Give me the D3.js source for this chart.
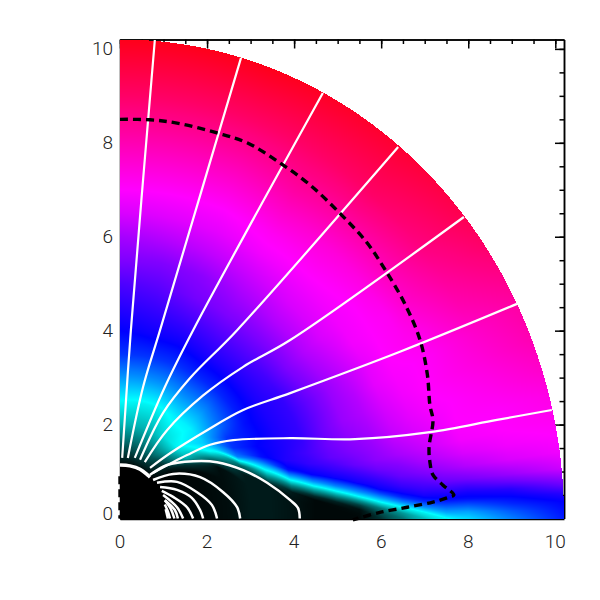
<!DOCTYPE html>
<html>
<head>
<meta charset="utf-8">
<script src="https://cdn.jsdelivr.net/npm/d3@7"></script>
<style>
  html, body { margin: 0; padding: 0; background: #fff; }
  svg { display: block; }
  .labels text { font-family: Roboto, sans-serif; font-weight: 300; font-size: 19px; fill: #222; }
</style>
</head>
<body>
<div id="chart"></div>
<script>
// colour level of the field: 0 black, 1 cyan, 2 blue, 3 magenta, 4 red
const levelStops = [0, 1, 2, 3, 4];
const levelColors = ["#000000", "#00ffff", "#0000ff", "#ff00ff", "#ff0000"];

const angles = [0, 1, 2, 3, 4, 5, 6, 8, 10, 12, 15, 18, 22, 26, 30, 35, 40, 50, 60, 70, 80, 90];
const radii = [1.1, 1.5, 2, 2.5, 3, 3.5, 4, 4.5, 5, 5.5, 6, 6.5, 7, 7.5, 8, 9, 10.2];

// angle of the cyan streamer band at each radius
const edgeAngles = [55, 55, 47, 36, 23.5, 17.4, 11.8, 8.8, 6.7, 4.9, 3.3, 2.1, 1.15, .4, 0, 0, 0];

// one row per radius, one value per angle
const levels = [
  [0, 0, 0, 0, 0, 0, 0, 0, 0, 0, 0, 0, 0, 0, 0, 0, 0, 0, 0, 0, 0, 0],
  [.02, .02, .02, .02, .02, .02, .02, .02, .02, .02, .02, .02, .02, .02, .02, .02, .02, .2, .35, .35, .3, .3],
  [.03, .03, .03, .03, .03, .03, .03, .03, .03, .03, .03, .03, .03, .03, .03, .2, .7, .95, .85, .7, .7, .7],
  [.05, .05, .05, .05, .05, .05, .05, .05, .05, .05, .05, .05, .05, .05, .4, 1, 1.2, 1.05, 1.05, .95, .95, 1],
  [.1, .1, .1, .1, .1, .1, .1, .1, .1, .1, .1, .1, .4, 1.5, 1.8, 1.8, 1.6, 1.45, 1.45, 1.4, 1.4, 1.4],
  [.1, .1, .1, .1, .1, .1, .1, .1, .1, .1, .6, 1.15, 1.95, 2, 1.95, 1.95, 1.9, 1.85, 1.85, 1.8, 1.8, 1.8],
  [.07, .07, .07, .07, .07, .07, .07, .1, .5, 1.05, 1.95, 2.12, 2.1, 2.1, 2.1, 2.1, 2.1, 2.1, 2.1, 2.05, 2.05, 2],
  [.03, .03, .03, .03, .03, .03, .15, .7, 1.4, 2, 2.2, 2.25, 2.2, 2.2, 2.2, 2.2, 2.25, 2.3, 2.3, 2.25, 2.2, 2.15],
  [.03, .03, .03, .04, .12, .4, .73, 1.5, 2.04, 2.2, 2.38, 2.42, 2.42, 2.4, 2.4, 2.45, 2.5, 2.5, 2.5, 2.45, 2.35, 2.3],
  [.03, .04, .06, .25, .6, 1.05, 1.45, 2.05, 2.22, 2.4, 2.5, 2.55, 2.6, 2.6, 2.6, 2.65, 2.7, 2.7, 2.65, 2.55, 2.5, 2.5],
  [.2, .3, .45, .85, 1.3, 1.7, 2.03, 2.22, 2.42, 2.55, 2.6, 2.65, 2.7, 2.72, 2.75, 2.8, 2.85, 2.85, 2.8, 2.75, 2.7, 2.65],
  [.45, .6, .95, 1.45, 1.85, 2.07, 2.2, 2.4, 2.52, 2.65, 2.75, 2.8, 2.85, 2.9, 2.9, 2.95, 2.95, 2.95, 2.95, 2.9, 2.88, 2.85],
  [.75, .95, 1.45, 1.85, 2.08, 2.2, 2.3, 2.5, 2.65, 2.75, 2.85, 2.9, 2.95, 2.98, 3, 3, 3, 3.05, 3.05, 3, 3, 3],
  [.97, 1.35, 1.65, 1.95, 2.1, 2.25, 2.4, 2.6, 2.75, 2.85, 2.92, 2.97, 3, 3, 3.05, 3.05, 3.1, 3.15, 3.2, 3.15, 3.15, 3.15],
  [1.15, 1.35, 1.65, 1.95, 2.08, 2.25, 2.45, 2.7, 2.85, 2.95, 3, 3, 3.05, 3.05, 3.1, 3.2, 3.25, 3.3, 3.35, 3.3, 3.3, 3.3],
  [1.5, 1.65, 1.85, 2, 2.15, 2.4, 2.6, 2.85, 2.95, 3, 3.02, 3.08, 3.15, 3.2, 3.3, 3.4, 3.5, 3.6, 3.6, 3.6, 3.6, 3.6],
  [1.9, 1.95, 2, 2.15, 2.4, 2.6, 2.8, 2.95, 3, 3.05, 3.1, 3.2, 3.3, 3.35, 3.45, 3.6, 3.7, 3.8, 3.85, 3.9, 3.9, 3.9]
];

// open field lines
const openLines = [
  [[.05, 1.29], [.25, 4.01], [.8, 10.19]],
  [[.18, 1.29], [.53, 2.8], [.92, 4.01], [2.78, 9.81]],
  [[.34, 1.29], [1.03, 2.8], [1.68, 4.01], [4.66, 9.06]],
  [[.46, 1.25], [.99, 2.25], [1.61, 2.99], [2.69, 4.01], [6.39, 7.91]],
  [[.57, 1.2], [1.08, 1.88], [1.91, 2.62], [2.83, 3.23], [3.91, 3.8], [7.9, 6.42]],
  [[.69, 1.08], [1.15, 1.39], [2, 1.88], [2.83, 2.31], [3.91, 2.67], [6.43, 3.55], [9.12, 4.57]],
  [[.76, .97], [1.54, 1.35], [2.07, 1.57], [2.6, 1.67], [3.91, 1.71], [5.4, 1.69], [7.12, 1.84], [8.66, 2.1], [9.92, 2.31]]
];

// closed field lines, outermost first
const closedLines = [
  [[.69, .93], [1.08, 1.14], [1.68, 1.22], [2.23, 1.2], [2.83, 1.03], [3.38, .76], [3.91, .39], [4.09, .22], [4.13, 0]],
  [[.76, .82], [1.22, .95], [1.84, .88], [2.37, .56], [2.69, .24], [2.76, 0]],
  [[.85, .76], [1.31, .78], [1.77, .56], [2.11, .29], [2.23, 0]],
  [[.92, .67], [1.31, .61], [1.65, .44], [1.84, .18], [1.91, 0]],
  [[.96, .59], [1.22, .46], [1.54, .24], [1.68, 0]],
  [[.99, .5], [1.31, .24], [1.45, 0]],
  [[1.03, .39], [1.26, .18], [1.33, 0]],
  [[1.03, .39], [1.17, .2], [1.25, 0]],
  [[1.03, .3], [1.1, .15], [1.15, 0]],
  [[1.05, .2], [1.1, 0]]
];

const surfaceEdge = [[0, 1.14], [.23, 1.12], [.46, 1.05], [.69, .88]];

// dashed curve
const sonicLine = [[0, 8.5], [.69, 8.49], [1.31, 8.42], [2.23, 8.21], [2.92, 8], [3.68, 7.57], [4.37, 7.1], [5.05, 6.5], [5.65, 5.9],
  [6.09, 5.3], [6.55, 4.56], [6.89, 3.81], [7.06, 3.07], [7.12, 2.41], [7.19, 2.09], [7.1, 1.52], [7.12, 1.2], [7.19, .93], [7.42, .71],
  [7.67, .5], [7.51, .44], [7.19, .35], [6.6, .24], [5.93, .12], [5.35, -.03]];
const sonicLeft = [[0, .9], [0, 0]];

const xTicks = [0, 2, 4, 6, 8, 10];
const minorTicks = d3.range(0, 10.2, .5);

const rangeMax = 10.2;
const width = 600, height = 600;
const x = d3.scaleLinear().domain([0, rangeMax]).range([120, 564]);
const y = d3.scaleLinear().domain([0, rangeMax]).range([518.5, 39.5]);
const color = d3.scaleLinear().domain(levelStops).range(levelColors).clamp(true);
const rIndex = d3.scaleLinear().domain(radii).range(d3.range(radii.length)).clamp(true);
const aIndex = d3.scaleLinear().domain(angles).range(d3.range(angles.length)).clamp(true);
const edgeAt = d3.scaleLinear().domain(radii).range(edgeAngles).clamp(true);

const lookup = d3.range(0, 1025).map(i => d3.rgb(color(i / 256)));

const rowLevel = (row, a) => {
  const ai = aIndex(a);
  const a0 = Math.min(Math.floor(ai), angles.length - 2);
  const fa = ai - a0;
  return (1 - fa) * levels[row][a0] + fa * levels[row][a0 + 1];
};

// rows are blended along the streamer band so that it stays one smooth band
const sampleLevel = (r, a) => {
  const ri = rIndex(r);
  const r0 = Math.min(Math.floor(ri), radii.length - 2);
  const fr = ri - r0;
  const edge = edgeAt(r);
  const w = Math.max(0, Math.min(1, 1 - (a - edge) / 25));
  const a0 = a + (edgeAngles[r0] - edge) * w;
  const a1 = a + (edgeAngles[r0 + 1] - edge) * w;
  return (1 - fr) * rowLevel(r0, a0) + fr * rowLevel(r0 + 1, a1);
};

const drawField = () => {
  const canvas = document.createElement("canvas");
  canvas.width = width;
  canvas.height = height;
  const ctx = canvas.getContext("2d");
  const img = ctx.createImageData(width, height);
  for (let py = 39; py < 519; py++) {
    for (let px = 120; px < 564; px++) {
      const dx = x.invert(px + .5), dy = Math.max(0, y.invert(py + .5));
      const r = Math.hypot(dx, dy);
      if (r > rangeMax) continue;
      const a = Math.atan2(dy, dx) * 180 / Math.PI;
      const c = lookup[Math.round(sampleLevel(r, a) * 256)];
      const k = (py * width + px) * 4;
      img.data[k] = c.r;
      img.data[k + 1] = c.g;
      img.data[k + 2] = c.b;
      img.data[k + 3] = 255;
    }
  }
  ctx.putImageData(img, 0, 0);
  return canvas.toDataURL();
};

const svg = d3.select("#chart").append("svg")
  .attr("width", width)
  .attr("height", height);

// minor and major ticks on all sides, the field image goes over them
const axes = svg.append("g").attr("class", "axes");
const addAxis = (axis, tx, ty, values, size) => {
  axes.append("g")
    .attr("transform", `translate(${tx},${ty})`)
    .call(axis.tickValues(values).tickSizeInner(size).tickSizeOuter(0).tickFormat(""))
    .call(g => g.selectAll("path, line").attr("stroke", "#000").attr("stroke-width", 1.5));
};
addAxis(d3.axisTop(x), 0, 39.5, minorTicks, -4.5);
addAxis(d3.axisTop(x), 0, 39.5, xTicks, -9);
addAxis(d3.axisRight(y), 564, 0, minorTicks, -4.5);
addAxis(d3.axisRight(y), 564, 0, xTicks, -9);
addAxis(d3.axisBottom(x), 0, 519, minorTicks, -4.5);
addAxis(d3.axisLeft(y), 120, 0, minorTicks, -4.5);

svg.append("image")
  .attr("x", 0)
  .attr("y", 0)
  .attr("width", width)
  .attr("height", height)
  .attr("href", drawField());

const line = d3.line().x(d => x(d[0])).y(d => y(d[1])).curve(d3.curveCatmullRom);

svg.append("g").selectAll("path")
  .data(openLines)
  .enter()
  .append("path")
  .attr("d", line)
  .attr("fill", "none")
  .attr("stroke", "#fff")
  .attr("stroke-width", 2.2);

svg.append("g").selectAll("path")
  .data(closedLines)
  .enter()
  .append("path")
  .attr("d", line)
  .attr("fill", "none")
  .attr("stroke", "#fff")
  .attr("stroke-width", 2.5);

svg.append("path")
  .datum(surfaceEdge)
  .attr("d", line)
  .attr("fill", "none")
  .attr("stroke", "#fff")
  .attr("stroke-width", 3.5);

svg.append("g").selectAll("path")
  .data([sonicLine, sonicLeft])
  .enter()
  .append("path")
  .attr("d", line)
  .attr("fill", "none")
  .attr("stroke", "#000")
  .attr("stroke-width", 3.4)
  .attr("stroke-dasharray", "8 5");

// tick labels
const labels = svg.append("g").attr("class", "labels");
labels.selectAll(".xl")
  .data(xTicks)
  .enter()
  .append("text")
  .attr("class", "xl")
  .attr("x", d => x(d))
  .attr("y", 548)
  .attr("text-anchor", "middle")
  .text(d => d);
labels.selectAll(".yl")
  .data(xTicks)
  .enter()
  .append("text")
  .attr("class", "yl")
  .attr("x", 113)
  .attr("y", d => y(d) + (d === 0 ? 1 : 6))
  .attr("text-anchor", "end")
  .text(d => d);
</script>
</body>
</html>
